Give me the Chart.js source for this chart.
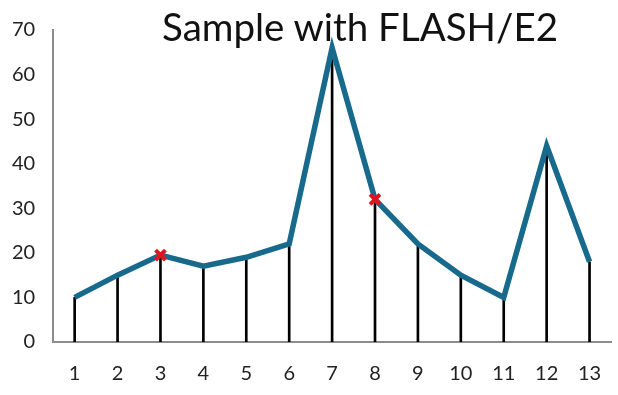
<!DOCTYPE html>
<html>
<head>
<meta charset="utf-8">
<script src="https://cdn.jsdelivr.net/npm/chart.js@4/dist/chart.umd.min.js"></script>
<style>
html,body{margin:0;padding:0;background:#fff;overflow:hidden;}
#wrap{position:relative;width:618px;height:395px;overflow:hidden;}
#title{position:absolute;left:0;top:3px;width:720px;text-align:center;font-family:Lato,"Open Sans",sans-serif;font-size:38.5px;color:#111;white-space:nowrap;}
canvas{position:absolute;left:0;top:0;}
</style>
</head>
<body>
<div id="wrap">
<canvas id="c" width="622" height="395"></canvas>
<div id="title">Sample with FLASH/E2</div>
</div>
<script>
const categories = ["1","2","3","4","5","6","7","8","9","10","11","12","13"];
const sampleValues = [10, 15, 19.5, 17, 19, 22, 66, 32, 22, 15, 10, 44, 18];
const markedValues = [null, null, 19.5, null, null, null, null, 32, null, null, null, null, null];
const yTicks = [0, 10, 20, 30, 40, 50, 60, 70];

new Chart(document.getElementById('c'), {
  data: {
    labels: categories,
    datasets: [
      {
        type: 'scatter',
        data: markedValues,
        showLine: false,
        pointStyle: 'crossRot',
        pointRadius: 7,
        borderWidth: 4,
        borderColor: '#e0141e',
        order: 0
      },
      {
        type: 'line',
        data: sampleValues,
        borderColor: '#176a8c',
        borderWidth: 5.5,
        pointRadius: 0,
        tension: 0,
        fill: false,
        order: 1
      },
      {
        type: 'bar',
        data: sampleValues,
        backgroundColor: '#000',
        barThickness: 2,
        order: 2
      }
    ]
  },
  options: {
    responsive: false,
    animation: false,
    layout: { padding: { left: -6, right: 2, top: 30, bottom: -11 } },
    plugins: { legend: { display: false }, tooltip: { enabled: false }, title: { display: false } },
    scales: {
      x: {
        type: 'category',
        offset: true,
        grid: { display: false, drawTicks: false },
        border: { display: true, color: '#8c8c8c', width: 2 },
        ticks: { padding: 20, color: '#222', font: { family: 'Lato', size: 20 } }
      },
      y: {
        min: 0,
        max: 70,
        afterBuildTicks: (axis) => { axis.ticks = yTicks.map(v => ({ value: v })); },
        grid: { display: false, drawTicks: false },
        border: { display: true, color: '#8c8c8c', width: 2 },
        ticks: { padding: 18, color: '#222', font: { family: 'Lato', size: 20 } }
      }
    }
  }
});
</script>
</body>
</html>
